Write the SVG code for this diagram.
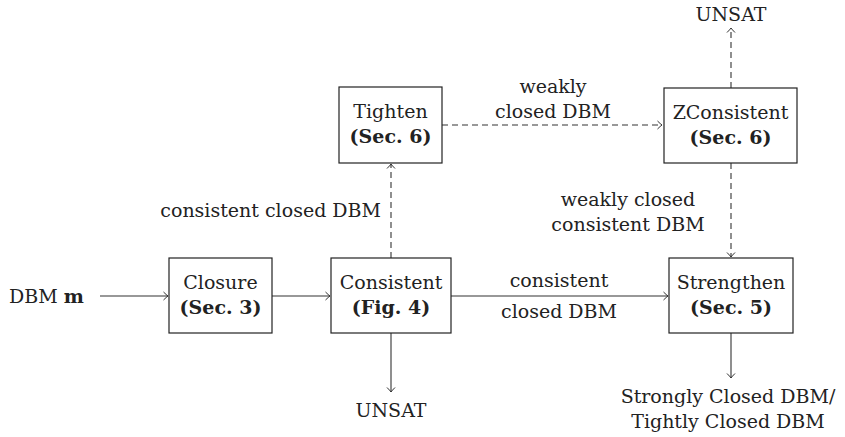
<svg xmlns="http://www.w3.org/2000/svg" width="845" height="437" viewBox="0 0 845 437">
<style>
text{font-family:"DejaVu Serif",serif;font-size:19px;fill:#222}
.c{text-anchor:middle}
.b{font-weight:bold}
.box{fill:#fff;stroke:#222;stroke-width:1.2}
.e{fill:none;stroke:#333;stroke-width:1.1;marker-end:url(#ah)}
.d{stroke-dasharray:6,4}
</style>
<defs>
<marker id="ah" viewBox="-6 -5 7 10" refX="0" refY="0" markerWidth="7" markerHeight="10" markerUnits="userSpaceOnUse" orient="auto">
<path d="M-4.5,-4 Q-1.5,-1 0,0 Q-1.5,1 -4.5,4" fill="none" stroke="#333" stroke-width="1"/>
</marker>
</defs>
<g id="connectors">
<path class="e" d="M100,296 H168"/>
<path class="e" d="M272,296 H330"/>
<path class="e" d="M451,296 H668"/>
<path class="e" d="M391,333 V392"/>
<path class="e d" d="M391,258 V164"/>
<path class="e d" d="M442,125 H662"/>
<path class="e d" d="M731,88 V28"/>
<path class="e d" d="M731,163 V257"/>
<path class="e" d="M731,333 V378"/>
<text x="559" y="287" class="c">consistent</text>
<text x="559" y="318" class="c">closed DBM</text>
<text x="553" y="93" class="c">weakly</text>
<text x="553" y="118" class="c">closed DBM</text>
<text x="628" y="206" class="c">weakly closed</text>
<text x="628" y="231" class="c">consistent DBM</text>
<text x="381" y="217" text-anchor="end">consistent closed DBM</text>
</g>
<g id="input"><text x="9" y="303">DBM <tspan class="b">m</tspan></text></g>
<g id="closure">
<rect class="box" x="169" y="258" width="103" height="75"/>
<text x="220.5" y="289" class="c">Closure</text>
<text x="220.5" y="314" class="c b">(Sec. 3)</text>
</g>
<g id="consistent">
<rect class="box" x="331" y="258" width="120" height="75"/>
<text x="391" y="289" class="c">Consistent</text>
<text x="391" y="314" class="c b">(Fig. 4)</text>
</g>
<g id="tighten">
<rect class="box" x="339" y="87" width="103" height="76"/>
<text x="390.5" y="118" class="c">Tighten</text>
<text x="390.5" y="143" class="c b">(Sec. 6)</text>
</g>
<g id="zconsistent">
<rect class="box" x="664" y="88" width="133" height="75"/>
<text x="730.5" y="119" class="c">ZConsistent</text>
<text x="730.5" y="144" class="c b">(Sec. 6)</text>
</g>
<g id="strengthen">
<rect class="box" x="669" y="258" width="124" height="75"/>
<text x="731" y="289" class="c">Strengthen</text>
<text x="731" y="314" class="c b">(Sec. 5)</text>
</g>
<g id="unsat1"><text x="391" y="417" class="c">UNSAT</text></g>
<g id="unsat2"><text x="731" y="21" class="c">UNSAT</text></g>
<g id="output">
<text x="728" y="403" class="c">Strongly Closed DBM/</text>
<text x="728" y="428" class="c">Tightly Closed DBM</text>
</g>
</svg>
